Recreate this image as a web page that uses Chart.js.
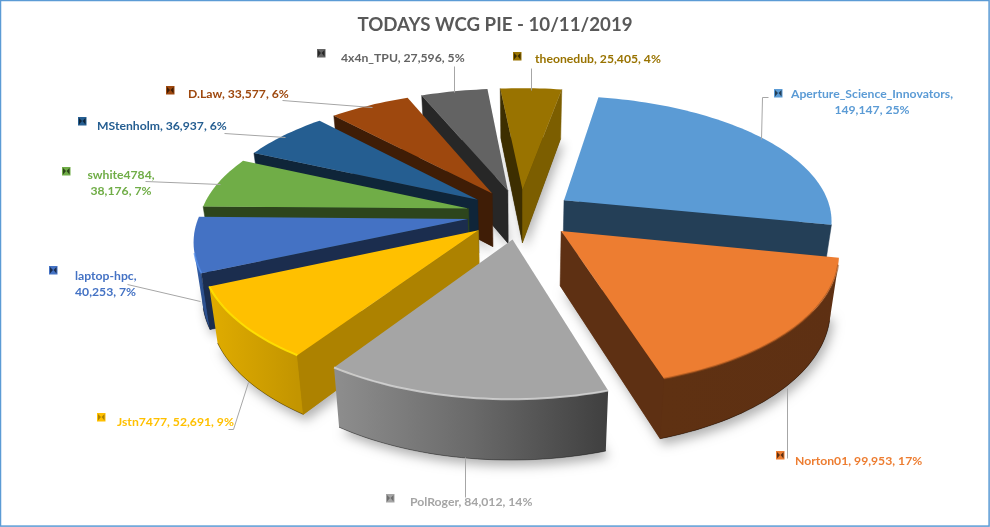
<!DOCTYPE html>
<html>
<head>
<meta charset="utf-8">
<style>html,body{margin:0;padding:0;background:#fff}canvas{display:block}</style>
<script src="https://cdn.jsdelivr.net/npm/chart.js@4"></script>
</head>
<body>
<canvas id="c" width="990" height="527"></canvas>
<script>
const categories = ["Aperture_Science_Innovators","Norton01","PolRoger","Jstn7477","laptop-hpc","swhite4784","MStenholm","D.Law","4x4n_TPU","theonedub"];
const values = [149147,99953,84012,52691,40253,38176,36937,33577,27596,25405];
const percentLabels = ["25%","17%","14%","9%","7%","7%","6%","6%","5%","4%"];
const titleText = "TODAYS WCG PIE - 10/11/2019";

const topColors = ["#5B9BD5","#ED7D31","#A5A5A5","#FFC000","#4472C4","#70AD47","#255E91","#9E480E","#636363","#997300"];
const cutColors = ["#243F57","#5E3013","#6E6E6E","#AD8200","#1B2D4E","#2D451C","#0F2539","#3F1D06","#272727","#3D2E00"];
const endColors = ["#243F57","#5E3013","#6E6E6E","#AD8200","#1B2D4E","#2D451C","#0F2539","#3F1D06","#272727","#7C5E00"];
const wallStops = [["#2F5F8C","#243F57"],["#5F3112","#5E3013"],["#8E8E8E","#6A6A6A","#3F3F3F"],["#E0AC00","#C39500"],["#3F6CBB","#2E5290"],["#2D451C","#2D451C"],["#0F2539","#0F2539"],["#3F1D06","#3F1D06"],["#272727","#272727"],["#7C5E00","#7C5E00"]];
const rimColors = [null,"rgba(150,75,25,.5)","rgba(215,215,215,.8)","rgba(255,226,0,.9)","rgba(80,140,235,.7)",null,null,null,null,null];

/* label layout */
const labelBoxes = [
 {wrap:true,x:872,y:[94,110],align:"center",key:[774,89],lead:[[768,97],[762,97],[761,139]]},
 {x:795,y:[461],align:"left",key:[776,451],lead:[[787,388],[787,458]]},
 {x:410,y:[502],align:"left",key:[386,494],lead:[[465,457],[465,497]],color:"#A5A5A5"},
 {x:117,y:[422],align:"left",key:[97,413],lead:[[228,429],[233,429],[248,382]]},
 {wrap:true,x:75,y:[276,292],align:"left",key:[49,266],lead:[[127,284],[200,301]]},
 {wrap:true,x:121,y:[175,191],align:"center",key:[62,167],lead:[[145,181],[220,184]]},
 {x:97,y:[126],align:"left",key:[78,117],lead:[[224,133],[285,137]]},
 {x:188,y:[94],align:"left",key:[166,86],lead:[[282,100],[372,107]]},
 {x:341,y:[58],align:"left",key:[317,49],lead:[[454,66],[454,92]]},
 {x:535,y:[59],align:"left",key:[513,52],lead:[[531,68],[531,90]]}
];

/* projection of the pie plane onto the page */
const P = {cx:520.5, cy:214, a:268, b:125, qx:0.15, qy:0.16, explode:0.2, H:54, shrink:0.027};
function project(X, Y, z){
  const sx = 1/(1-P.qx*Y), sy = 1/(1-P.qy*Y), f = 1-P.shrink*z;
  return [P.cx+P.a*X*sx*f, P.cy+P.b*Y*sy*f+P.H*sx*z];
}
function polygon(ctx, pts){
  ctx.beginPath();
  pts.forEach((p,i)=> i?ctx.lineTo(p[0],p[1]):ctx.moveTo(p[0],p[1]));
  ctx.closePath();
}
function cross(o,a,b){return (a[0]-o[0])*(b[1]-o[1])-(a[1]-o[1])*(b[0]-o[0]);}

function drawSlice(ctx, arc, i){
  const th0 = arc.startAngle+Math.PI/2, th1 = arc.endAngle+Math.PI/2, mid=(th0+th1)/2;
  const ox = P.explode*Math.sin(mid), oy = -P.explode*Math.cos(mid);
  const n = Math.max(4,Math.ceil((th1-th0)/(Math.PI/120)));
  const top=[],bot=[];
  for(let k=0;k<=n;k++){
    const t=th0+(th1-th0)*k/n, X=ox+Math.sin(t), Y=oy-Math.cos(t);
    top.push(project(X,Y,0)); bot.push(project(X,Y,1));
  }
  const tipT=project(ox,oy,0), tipB=project(ox,oy,1);
  // soft shadow under the slice
  ctx.save();
  ctx.shadowColor="rgba(0,0,0,.3)"; ctx.shadowBlur=11; ctx.shadowOffsetX=3; ctx.shadowOffsetY=6;
  ctx.fillStyle=cutColors[i];
  polygon(ctx,[tipB,...bot]); ctx.fill();
  ctx.restore();
  // outer wall: the run of rim segments that face the viewer
  const xs=top.map(p=>p[0]), g=ctx.createLinearGradient(Math.min(...xs),0,Math.max(...xs),0);
  wallStops[i].forEach((c,k,a)=>g.addColorStop(k/(a.length-1),c));
  const vis=[];
  for(let k=0;k<n;k++){
    if(cross(top[k],top[k+1],bot[k])*cross(top[k],top[k+1],tipT)<0) vis.push(k);
  }
  if(vis.length){
    const a=vis[0], z=vis[vis.length-1]+1;
    const upper=top.slice(a,z+1), lower=bot.slice(a,z+1).reverse();
    ctx.fillStyle=g;
    polygon(ctx,[...upper,...lower]); ctx.fill();
    // thin dark line along the bottom edge of the wall
    ctx.strokeStyle="rgba(0,0,0,.35)"; ctx.lineWidth=1;
    ctx.beginPath(); lower.forEach((p,k)=>k?ctx.lineTo(p[0],p[1]):ctx.moveTo(p[0],p[1])); ctx.stroke();
  }
  // radial cut faces
  [[top[0],bot[0],top[n],cutColors[i]],[top[n],bot[n],top[0],endColors[i]]].forEach(([rT,rB,other,col])=>{
    const side=cross(tipT,rT,tipB)*cross(tipT,rT,other);
    if(side<0){ctx.fillStyle=col;ctx.strokeStyle=col;ctx.lineWidth=.5;polygon(ctx,[tipT,rT,rB,tipB]);ctx.fill();ctx.stroke();}
  });
  // top face, coloured by the library's resolved element options
  ctx.fillStyle=arc.options.backgroundColor;
  polygon(ctx,[tipT,...top]); ctx.fill();
  // bevel highlight along the rim
  if(rimColors[i] && vis.length){
    ctx.save();
    ctx.beginPath();
    top.slice(vis[0],vis[vis.length-1]+2).forEach((p,k)=>k?ctx.lineTo(p[0],p[1]):ctx.moveTo(p[0],p[1]));
    ctx.strokeStyle=rimColors[i]; ctx.lineWidth=2; ctx.filter="blur(.7px)"; ctx.stroke();
    ctx.restore();
  }
}

function drawKey(ctx,x,y,i){
  const s=8;
  ctx.fillStyle=topColors[i]; ctx.fillRect(x,y,s+.5,s+.5);
  ctx.fillStyle=cutColors[i];
  ctx.beginPath();ctx.moveTo(x+1,y+1);ctx.lineTo(x+4,y+4);ctx.lineTo(x+1,y+7.5);ctx.closePath();ctx.fill();
  ctx.beginPath();ctx.moveTo(x+7.5,y+1);ctx.lineTo(x+4.5,y+4);ctx.lineTo(x+7.5,y+7.5);ctx.closePath();ctx.fill();
}

const pie3d = {
  id:"pie3d",
  beforeDatasetDraw(chart,args){
    const ctx=chart.ctx, arcs=chart.getDatasetMeta(args.index).data;
    const order=arcs.map((a,i)=>[i,-Math.cos((a.startAngle+a.endAngle)/2+Math.PI/2)]).sort((p,r)=>p[1]-r[1]);
    ctx.save();
    order.forEach(([i])=>drawSlice(ctx,arcs[i],i));
    ctx.restore();
    return false;
  },
  afterDraw(chart){
    const ctx=chart.ctx;
    ctx.save();
    ctx.strokeStyle="#5B9BD5"; ctx.lineWidth=1.5; ctx.strokeRect(.5,.5,988.6,525.6);
    labelBoxes.forEach((b,i)=>{
      ctx.strokeStyle="#A6A6A6"; ctx.lineWidth=1;
      ctx.beginPath(); b.lead.forEach((p,k)=>k?ctx.lineTo(p[0]+.5,p[1]+.5):ctx.moveTo(p[0]+.5,p[1]+.5)); ctx.stroke();
      drawKey(ctx,b.key[0],b.key[1],i);
      const name=categories[i]+",", rest=values[i].toLocaleString("en-US")+", "+percentLabels[i];
      const lines=b.wrap?[name,rest]:[name+" "+rest];
      ctx.font="bold 12.2px Lato"; ctx.fillStyle=b.color||topColors[i];
      ctx.textAlign=b.align; ctx.textBaseline="middle";
      lines.forEach((t,k)=>ctx.fillText(t,b.x,b.y[k]));
    });
    ctx.restore();
  }
};

new Chart(document.getElementById("c"),{
  type:"pie",
  data:{labels:categories,datasets:[{data:values,backgroundColor:topColors,borderWidth:0}]},
  options:{
    responsive:false,animation:false,rotation:10,
    layout:{padding:0},
    plugins:{
      legend:{display:false},tooltip:{enabled:false},
      title:{display:true,text:titleText,color:"#595959",font:{family:"Lato",size:18.7,weight:"bold"},padding:{top:14,bottom:8}}
    }
  },
  plugins:[pie3d]
});
</script>
</body>
</html>
